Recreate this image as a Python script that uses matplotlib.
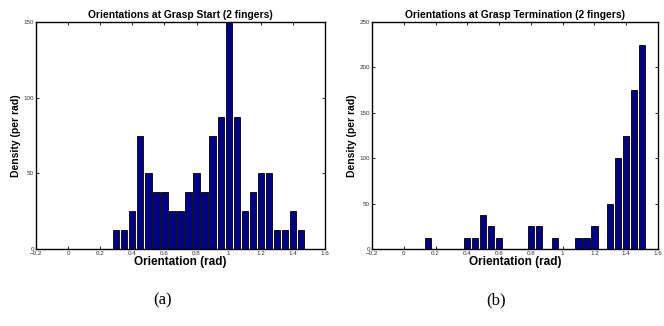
import numpy as np
import matplotlib
matplotlib.use('Agg')
import matplotlib.pyplot as plt

# bin centres (rad) and density values (per rad)
start_centres = [0.30, 0.35, 0.40, 0.45, 0.50, 0.55, 0.60, 0.65, 0.70, 0.75, 0.80, 0.85,
                 0.90, 0.95, 1.00, 1.05, 1.10, 1.15, 1.20, 1.25, 1.30, 1.35, 1.40, 1.45]
start_density = [12.5, 12.5, 25, 75, 50, 37.5, 37.5, 25, 25, 37.5, 50, 37.5,
                 75, 87.5, 150, 87.5, 25, 37.5, 50, 50, 12.5, 12.5, 25, 12.5]

term_centres = [0.15, 0.40, 0.45, 0.50, 0.55, 0.60, 0.80, 0.85, 0.95, 1.10, 1.15, 1.20,
                1.30, 1.35, 1.40, 1.45, 1.50]
term_density = [12.5, 12.5, 12.5, 37.5, 25, 12.5, 25, 25, 12.5, 12.5, 12.5, 25,
                50, 100, 125, 175, 225]

titles = ['Orientations at Grasp Start (2 fingers)', 'Orientations at Grasp Termination (2 fingers)']
captions = ['(a)', '(b)']
ylims = [150, 250]
xticks = [-0.2, 0, 0.2, 0.4, 0.6, 0.8, 1, 1.2, 1.4, 1.6]

sans = ['Liberation Sans', 'DejaVu Sans']
fig = plt.figure(figsize=(6.64, 3.26), dpi=100)
axes = [fig.add_axes([36/664, 1 - 249/326, 289/664, 227/326]),
        fig.add_axes([372/664, 1 - 249/326, 286/664, 227/326])]

data = [(start_centres, start_density), (term_centres, term_density)]
cap_x = [163, 496]
for ax, (c, d), t, cap, ym, cx in zip(axes, data, titles, captions, ylims, cap_x):
    ax.bar(c, d, width=0.039, color='#00008B', edgecolor='#111111', linewidth=0.7)
    ax.set_xlim(-0.2, 1.6)
    ax.set_ylim(0, ym)
    ax.set_xticks(xticks)
    ax.set_xticklabels(['\u22120.2', '0', '0.2', '0.4', '0.6', '0.8', '1', '1.2', '1.4', '1.6'])
    ax.set_yticks(np.arange(0, ym + 1, 50))
    ax.tick_params(direction='in', top=True, right=True, length=2.5, width=0.6,
                   labelsize=4.5, labelcolor='#333333', pad=1.5)
    for lab in ax.get_xticklabels() + ax.get_yticklabels():
        lab.set_family(sans)
    for s in ax.spines.values():
        s.set_linewidth(1.0)
    ax.set_title(t, fontsize=7.4, fontweight='bold', family=sans, pad=3)
    ax.set_xlabel('Orientation (rad)', fontsize=8.5, fontweight='bold', family=sans, labelpad=0)
    ax.set_ylabel('Density (per rad)', fontsize=7.5, fontweight='bold', family=sans, labelpad=2)
    fig.text(cx / 664, 1 - 300 / 326, cap, ha='center', va='center', fontsize=12,
             family=['Liberation Serif', 'DejaVu Serif'])

fig.savefig('out.png', dpi=100)
